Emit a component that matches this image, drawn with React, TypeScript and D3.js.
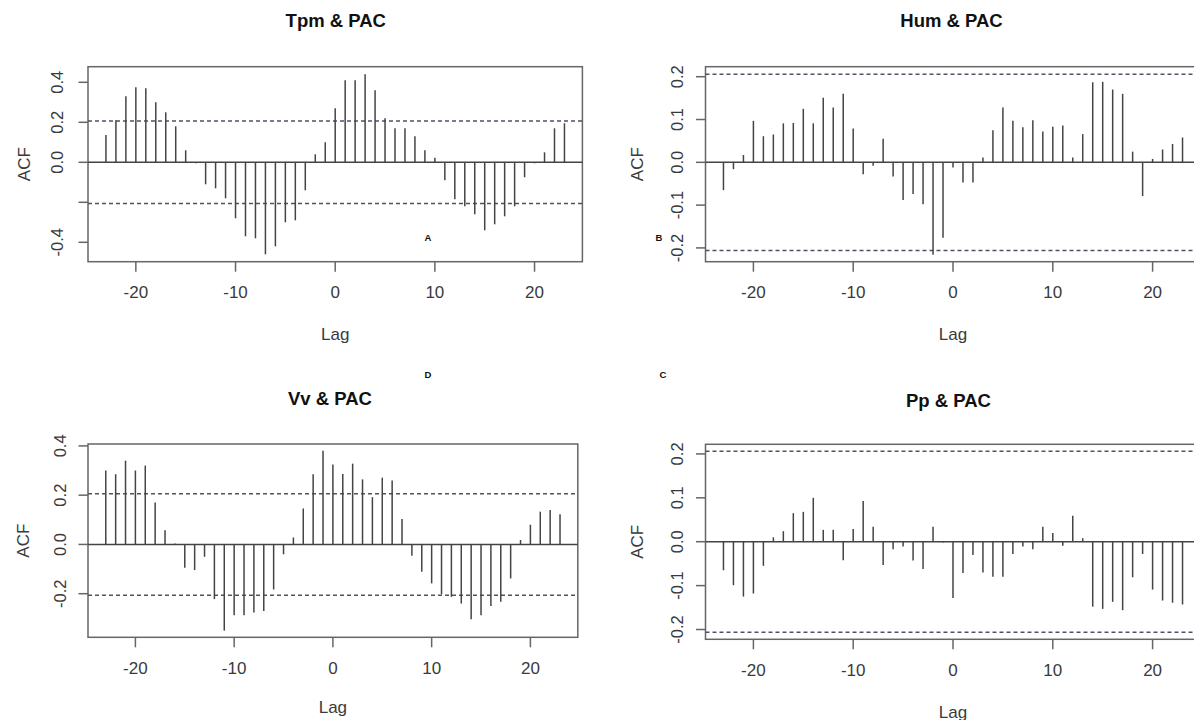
import React from "react";
import * as d3 from "d3";

// lags of the cross-correlation, -23 .. 23
const LAGS = d3.range(-23, 24);

const TPM_PAC = [
  0.137, 0.21, 0.33, 0.375, 0.37, 0.3, 0.25, 0.18, 0.06, -0.005, -0.11, -0.13,
  -0.18, -0.28, -0.37, -0.38, -0.46, -0.42, -0.3, -0.29, -0.14, 0.04, 0.1, 0.27,
  0.41, 0.41, 0.44, 0.36, 0.22, 0.17, 0.17, 0.13, 0.06, 0.023, -0.09, -0.185,
  -0.22, -0.26, -0.34, -0.31, -0.27, -0.22, -0.075, -0.005, 0.05, 0.17, 0.195,
];
const HUM_PAC = [
  -0.065, -0.016, 0.017, 0.097, 0.061, 0.065, 0.091, 0.092, 0.125, 0.091, 0.151,
  0.128, 0.16, 0.079, -0.028, -0.008, 0.055, -0.033, -0.088, -0.074, -0.098,
  -0.216, -0.176, -0.012, -0.047, -0.047, 0.011, 0.075, 0.128, 0.097, 0.082,
  0.098, 0.072, 0.083, 0.086, 0.011, 0.066, 0.187, 0.188, 0.17, 0.16, 0.025,
  -0.079, 0.008, 0.03, 0.043, 0.058,
];
const VV_PAC = [
  0.3, 0.285, 0.34, 0.3, 0.32, 0.17, 0.058, 0.004, -0.095, -0.104, -0.05, -0.222,
  -0.35, -0.287, -0.287, -0.276, -0.27, -0.183, -0.04, 0.028, 0.146, 0.285, 0.38,
  0.324, 0.286, 0.328, 0.264, 0.192, 0.271, 0.26, 0.103, -0.046, -0.111, -0.158,
  -0.202, -0.213, -0.24, -0.304, -0.287, -0.25, -0.233, -0.138, 0.018, 0.08,
  0.133, 0.14, 0.123,
];
const PP_PAC = [
  -0.065, -0.099, -0.125, -0.118, -0.055, 0.01, 0.024, 0.065, 0.068, 0.1, 0.027,
  0.027, -0.042, 0.029, 0.093, 0.034, -0.053, -0.017, -0.011, -0.043, -0.062,
  0.034, -0.002, -0.128, -0.071, -0.03, -0.07, -0.08, -0.08, -0.028, -0.011,
  -0.017, 0.034, 0.02, -0.009, 0.059, 0.008, -0.148, -0.153, -0.137, -0.156,
  -0.081, -0.028, -0.109, -0.134, -0.139, -0.143,
];

const LAG_TICKS = [-20, -10, 0, 10, 20];
const TICKS_WIDE = [-0.4, -0.2, 0, 0.2, 0.4];
const TICKS_NARROW = [-0.2, -0.1, 0, 0.1, 0.2];
const CI = 0.206;

const FONT = "'Liberation Sans', Arial, sans-serif";

const panels = [
  {
    title: "Tpm & PAC", tag: "A", values: TPM_PAC, ticks: TICKS_WIDE, noLabel: [-0.2],
    box: [88, 582.4, 66.7, 261.7], yDomain: [-0.497, 0.478],
    titleX: 335.8, titleY: 27, yLabX: 57, acfX: 24, tickLabY: 292, lagY: 334, tagPos: [428, 237],
  },
  {
    title: "Hum & PAC", tag: "B", values: HUM_PAC, ticks: TICKS_NARROW, noLabel: [],
    box: [705.5, 1200.5, 66.7, 261.7], yDomain: [-0.2322, 0.2234],
    titleX: 951.5, titleY: 27, yLabX: 677, acfX: 637, tickLabY: 292, lagY: 334, tagPos: [659, 237],
  },
  {
    title: "Vv & PAC", tag: "D", values: VV_PAC, ticks: TICKS_WIDE, noLabel: [],
    box: [88, 577.8, 444, 637.3], yDomain: [-0.377, 0.4077],
    titleX: 330, titleY: 405, yLabX: 60, acfX: 23, tickLabY: 668, lagY: 707, tagPos: [428, 374],
  },
  {
    title: "Pp & PAC", tag: "C", values: PP_PAC, ticks: TICKS_NARROW, noLabel: [],
    box: [705.5, 1200.5, 444.3, 639.3], yDomain: [-0.2223, 0.2219],
    titleX: 948.5, titleY: 407, yLabX: 677, acfX: 637, tickLabY: 670, lagY: 712, tagPos: [663, 374],
  },
];

const fmt = (v) => d3.format(".1f")(v).replace("\u2212", "-");

const Panel = ({ p }) => {
  const [x0, x1, y0, y1] = p.box;
  const x = d3.scaleLinear().domain([-24.8, 24.8]).range([x0, x1]);
  const y = d3.scaleLinear().domain(p.yDomain).range([y1, y0]);
  const yTicks = p.ticks.filter((t) => t >= p.yDomain[0] && t <= p.yDomain[1]);

  return (
    <g fontFamily={FONT}>
      <text x={p.titleX} y={p.titleY} textAnchor="middle" fontWeight="bold" fontSize={18.5} fill="#111">
        {p.title}
      </text>
      <rect x={x0} y={y0} width={x1 - x0} height={y1 - y0} fill="none" stroke="#666" strokeWidth={1.5} />

      {/* confidence bounds */}
      {[CI, -CI].map((c) => (
        <line key={c} x1={x0} x2={x1} y1={y(c)} y2={y(c)} stroke="#4e5266" strokeWidth={1.5} strokeDasharray="4,3" />
      ))}
      <line x1={x0} x2={x1} y1={y(0)} y2={y(0)} stroke="#444" strokeWidth={1.5} />

      {LAGS.map((lag, i) => (
        <line key={lag} x1={x(lag)} x2={x(lag)} y1={y(0)} y2={y(p.values[i])} stroke="#444" strokeWidth={1.5} />
      ))}

      {/* x axis */}
      {LAG_TICKS.map((t) => (
        <g key={t}>
          <line x1={x(t)} x2={x(t)} y1={y1} y2={y1 + 10} stroke="#666" strokeWidth={1.5} />
          <text x={x(t)} y={p.tickLabY} textAnchor="middle" dominantBaseline="central" fontSize={17} fill="#3a3a3a">
            {t}
          </text>
        </g>
      ))}
      <text x={x(0)} y={p.lagY} textAnchor="middle" dominantBaseline="central" fontSize={17} fill="#3a3a3a">
        Lag
      </text>

      {/* y axis */}
      {yTicks.map((t) => (
        <g key={t}>
          <line x1={x0 - 9.5} x2={x0} y1={y(t)} y2={y(t)} stroke="#666" strokeWidth={1.5} />
          {!p.noLabel.includes(t) && (
            <text
              transform={`translate(${p.yLabX},${y(t)}) rotate(-90)`}
              textAnchor="middle"
              dominantBaseline="central"
              fontSize={16.5}
              fill="#3a3a3a"
            >
              {fmt(t)}
            </text>
          )}
        </g>
      ))}
      <text
        transform={`translate(${p.acfX},${(y0 + y1) / 2}) rotate(-90)`}
        textAnchor="middle"
        dominantBaseline="central"
        fontSize={17}
        fill="#3a3a3a"
      >
        ACF
      </text>

      <text x={p.tagPos[0]} y={p.tagPos[1]} textAnchor="middle" dominantBaseline="central" fontSize={9.5} fontWeight="bold" fill="#111">
        {p.tag}
      </text>
    </g>
  );
};

export default function App() {
  return (
    <svg width={1194} height={720} style={{ position: "absolute", left: 0, top: 0, background: "#fff" }}>
      {panels.map((p) => (
        <Panel key={p.tag} p={p} />
      ))}
    </svg>
  );
}
